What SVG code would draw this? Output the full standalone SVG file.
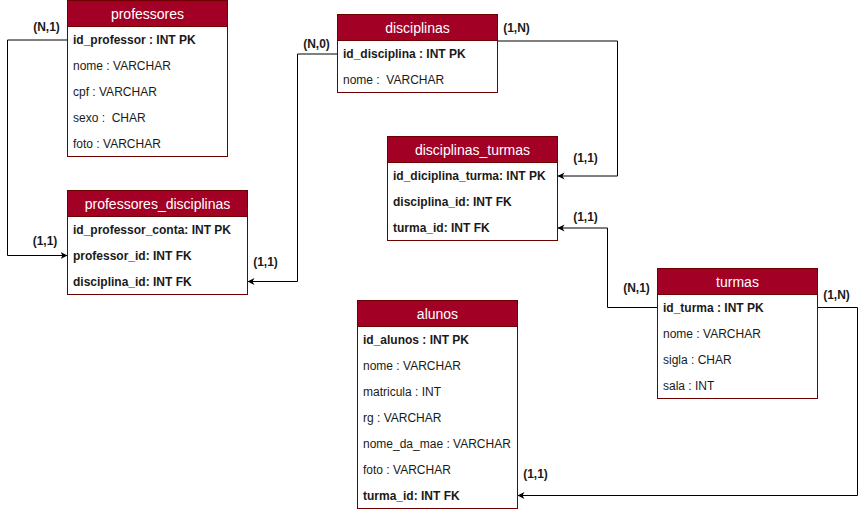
<svg xmlns="http://www.w3.org/2000/svg" width="866" height="512" viewBox="0 0 866 512">
<style>
.box{fill:#ffffff;stroke:#6F0000;stroke-width:1}
.hdr{fill:#a20025;stroke:#6F0000;stroke-width:1}
.ht{font-family:"Liberation Sans",Arial,sans-serif;font-size:14px;fill:#ffffff;text-anchor:middle}
.rt{font-family:"Liberation Sans",Arial,sans-serif;font-size:12px;fill:#1a1a1a;white-space:pre}
.b{font-weight:bold}
.lbl{font-family:"Liberation Sans",Arial,sans-serif;font-size:12px;font-weight:bold;fill:#1a1a1a;text-anchor:middle}
.con{fill:none;stroke:#000000;stroke-width:1}
</style>
<defs>
<marker id="arr" markerWidth="8" markerHeight="8" refX="7" refY="4" orient="auto" markerUnits="userSpaceOnUse">
<path d="M0,0.5 L7,4 L0,7.5 L2,4 z" fill="#000000"/>
</marker>
</defs>
<rect width="866" height="512" fill="#ffffff"/>
<g id="connectors">
<polyline class="con" points="67.5,40 7.5,40 7.5,255.5 67.5,255.5" marker-end="url(#arr)"/>
<polyline class="con" points="337.5,54 297.5,54 297.5,281.5 247.5,281.5" marker-end="url(#arr)"/>
<polyline class="con" points="497.5,41 617.5,41 617.5,176 557.5,176" marker-end="url(#arr)"/>
<polyline class="con" points="657.5,307.5 607.5,307.5 607.5,228 557.5,228" marker-end="url(#arr)"/>
<polyline class="con" points="817.5,307.5 857.5,307.5 857.5,495.5 517.5,495.5" marker-end="url(#arr)"/>
<text class="lbl" x="46.5" y="31">(N,1)</text>
<text class="lbl" x="45" y="245">(1,1)</text>
<text class="lbl" x="316.5" y="48">(N,0)</text>
<text class="lbl" x="265.5" y="266">(1,1)</text>
<text class="lbl" x="516.5" y="32">(1,N)</text>
<text class="lbl" x="585.5" y="161.5">(1,1)</text>
<text class="lbl" x="585.5" y="220.5">(1,1)</text>
<text class="lbl" x="636.5" y="292">(N,1)</text>
<text class="lbl" x="836.5" y="299">(1,N)</text>
<text class="lbl" x="535.5" y="477.5">(1,1)</text>
</g>
<g id="professores">
<rect class="box" x="67.5" y="0.5" width="160" height="156"/>
<rect class="hdr" x="67.5" y="0.5" width="160" height="26"/>
<text class="ht" x="147.5" y="18.5">professores</text>
<text class="rt b" x="73" y="44">id_professor : INT PK</text>
<text class="rt" x="73" y="70">nome : VARCHAR</text>
<text class="rt" x="73" y="96">cpf : VARCHAR</text>
<text class="rt" x="73" y="122" xml:space="preserve">sexo :  CHAR</text>
<text class="rt" x="73" y="148">foto : VARCHAR</text>
</g>
<g id="disciplinas">
<rect class="box" x="337.5" y="14.5" width="160" height="78"/>
<rect class="hdr" x="337.5" y="14.5" width="160" height="26"/>
<text class="ht" x="417.5" y="32.5">disciplinas</text>
<text class="rt b" x="343" y="58">id_disciplina : INT PK</text>
<text class="rt" x="343" y="84" xml:space="preserve">nome :  VARCHAR</text>
</g>
<g id="disciplinas_turmas">
<rect class="box" x="387.5" y="136.5" width="170" height="104"/>
<rect class="hdr" x="387.5" y="136.5" width="170" height="26"/>
<text class="ht" x="472.5" y="154.5">disciplinas_turmas</text>
<text class="rt b" x="393" y="180">id_diciplina_turma: INT PK</text>
<text class="rt b" x="393" y="206">disciplina_id: INT FK</text>
<text class="rt b" x="393" y="232">turma_id: INT FK</text>
</g>
<g id="professores_disciplinas">
<rect class="box" x="67.5" y="190.5" width="180" height="104"/>
<rect class="hdr" x="67.5" y="190.5" width="180" height="26"/>
<text class="ht" x="157.5" y="208.5">professores_disciplinas</text>
<text class="rt b" x="73" y="234">id_professor_conta: INT PK</text>
<text class="rt b" x="73" y="260">professor_id: INT FK</text>
<text class="rt b" x="73" y="286">disciplina_id: INT FK</text>
</g>
<g id="turmas">
<rect class="box" x="657.5" y="268.5" width="160" height="130"/>
<rect class="hdr" x="657.5" y="268.5" width="160" height="26"/>
<text class="ht" x="737.5" y="286.5">turmas</text>
<text class="rt b" x="663" y="312">id_turma : INT PK</text>
<text class="rt" x="663" y="338">nome : VARCHAR</text>
<text class="rt" x="663" y="364">sigla : CHAR</text>
<text class="rt" x="663" y="390">sala : INT</text>
</g>
<g id="alunos">
<rect class="box" x="357.5" y="300.5" width="160" height="208"/>
<rect class="hdr" x="357.5" y="300.5" width="160" height="26"/>
<text class="ht" x="437.5" y="318.5">alunos</text>
<text class="rt b" x="363" y="344">id_alunos : INT PK</text>
<text class="rt" x="363" y="370">nome : VARCHAR</text>
<text class="rt" x="363" y="396">matricula : INT</text>
<text class="rt" x="363" y="422">rg : VARCHAR</text>
<text class="rt" x="363" y="448">nome_da_mae : VARCHAR</text>
<text class="rt" x="363" y="474">foto : VARCHAR</text>
<text class="rt b" x="363" y="500">turma_id: INT FK</text>
</g>
</svg>
